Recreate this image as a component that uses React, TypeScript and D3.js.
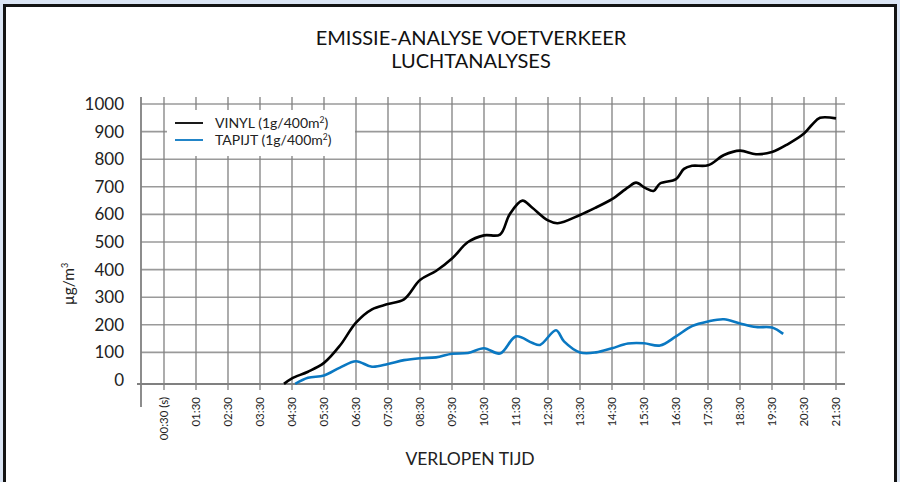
import React, { useEffect, useRef } from 'react';
import * as d3 from 'd3';

// tick labels on the time axis (one every minute, at :30)
const timeLabels = [
  '00:30 (s)', '01:30', '02:30', '03:30', '04:30', '05:30', '06:30', '07:30',
  '08:30', '09:30', '10:30', '11:30', '12:30', '13:30', '14:30', '15:30',
  '16:30', '17:30', '18:30', '19:30', '20:30', '21:30',
];
const yTicks = [0, 100, 200, 300, 400, 500, 600, 700, 800, 900, 1000];

// elapsed minutes + µg/m3
const vinylTimes = [4.25, 4.5, 5, 5.5, 6, 6.5, 7, 7.5, 8, 8.5, 9, 9.5, 10, 10.5, 11, 11.3, 11.7, 12, 12.5, 12.8, 13.5, 14, 14.5, 15, 15.25, 15.55, 15.8, 16, 16.5, 16.75, 17, 17.5, 18, 18.5, 19, 19.5, 20, 20.5, 20.75, 21, 21.5];
const vinylValues = [-14, 6, 30, 62, 125, 208, 256, 275, 292, 362, 395, 440, 500, 524, 527, 600, 650, 625, 578, 568, 598, 625, 655, 698, 715, 695, 685, 712, 728, 765, 776, 778, 815, 831, 818, 826, 855, 893, 925, 950, 948];

const tapijtTimes = [4.6, 5, 5.5, 6, 6.5, 7, 7.5, 8, 8.5, 9, 9.5, 10, 10.5, 11, 11.5, 12, 12.25, 12.75, 13, 13.5, 14, 14.5, 15, 15.5, 16, 16.5, 17, 17.5, 18, 18.5, 19, 19.5, 19.85];
const tapijtValues = [-14, 8, 16, 45, 68, 48, 58, 72, 79, 82, 95, 98, 115, 96, 158, 135, 127, 180, 140, 100, 100, 115, 132, 133, 125, 158, 195, 212, 220, 205, 192, 190, 167];

const FONT = 'Lato, "Noto Sans", sans-serif';

export default function App() {
  const ref = useRef<SVGSVGElement>(null);

  useEffect(() => {
    const svg = d3.select(ref.current);
    svg.selectAll('*').remove();

    const y = d3.scaleLinear().domain([0, 1000]).range([380, 104]);
    const x = d3.scaleLinear().domain([0.5, 21.5]).range([164, 836]);
    const xBand = d3.scalePoint().domain(timeLabels).range([164, 836]);
    const axisY = y(0) + 4;
    const left = 141;
    const right = 845;
    const top = 97;

    // page + frame
    svg.append('rect').attr('width', 900).attr('height', 482).attr('fill', '#dbe5f4');
    svg.append('rect')
      .attr('x', 4.5).attr('y', 5.5).attr('width', 891).attr('height', 500)
      .attr('fill', '#fff').attr('stroke', '#141414').attr('stroke-width', 3);

    // title
    const title = svg.append('text')
      .attr('text-anchor', 'middle').attr('font-family', FONT).attr('font-size', 20).attr('fill', '#111');
    title.append('tspan').attr('x', 471).attr('y', 45).text('EMISSIE-ANALYSE VOETVERKEER');
    title.append('tspan').attr('x', 471).attr('y', 68).text('LUCHTANALYSES');

    const grid = svg.append('g');
    // horizontal grid
    grid.selectAll('line.h')
      .data(yTicks.filter((d) => d > 0))
      .enter().append('line')
      .attr('x1', left).attr('x2', right)
      .attr('y1', (d) => y(d)).attr('y2', (d) => y(d))
      .attr('stroke', '#9a9a9a').attr('stroke-width', 1.6);
    // vertical grid + ticks
    grid.selectAll('line.v')
      .data(timeLabels)
      .enter().append('line')
      .attr('x1', (d) => xBand(d)!).attr('x2', (d) => xBand(d)!)
      .attr('y1', top).attr('y2', axisY + 6)
      .attr('stroke', '#808080').attr('stroke-width', 1.3);

    // axes
    svg.append('line').attr('x1', left).attr('x2', left).attr('y1', top).attr('y2', 407)
      .attr('stroke', '#808080').attr('stroke-width', 1.8);
    svg.append('line').attr('x1', 137).attr('x2', right).attr('y1', axisY).attr('y2', axisY)
      .attr('stroke', '#808080').attr('stroke-width', 1.8);

    // y tick labels
    svg.append('g').selectAll('text')
      .data(yTicks)
      .enter().append('text')
      .attr('x', 124).attr('y', (d) => y(d))
      .attr('dy', '0.35em').attr('text-anchor', 'end')
      .attr('font-family', FONT).attr('font-size', 17).attr('fill', '#222')
      .text((d) => d);

    // x tick labels (rotated)
    svg.append('g').selectAll('text')
      .data(timeLabels)
      .enter().append('text')
      .attr('transform', (d) => `translate(${xBand(d)! + 4}, 397) rotate(-90)`)
      .attr('text-anchor', 'end')
      .attr('font-family', FONT).attr('font-size', 11.5).attr('fill', '#222')
      .text((d) => d);

    // axis titles
    const yt = svg.append('text')
      .attr('transform', 'translate(74, 284) rotate(-90)')
      .attr('text-anchor', 'middle').attr('font-family', FONT).attr('font-size', 15.5).attr('fill', '#222');
    yt.append('tspan').text('µg/m');
    yt.append('tspan').attr('font-size', 9).attr('dy', -6).text('3');

    svg.append('text')
      .attr('x', 470).attr('y', 465).attr('text-anchor', 'middle')
      .attr('font-family', FONT).attr('font-size', 17.5).attr('fill', '#222')
      .text('VERLOPEN TIJD');

    // legend
    svg.append('rect').attr('x', 167).attr('y', 110).attr('width', 188).attr('height', 46).attr('fill', '#fff');
    const legend = [
      { name: 'VINYL (1g/400m', color: '#000', yy: 123 },
      { name: 'TAPIJT (1g/400m', color: '#0a78c2', yy: 140 },
    ];
    legend.forEach((l) => {
      svg.append('line').attr('x1', 175).attr('x2', 203).attr('y1', l.yy).attr('y2', l.yy)
        .attr('stroke', l.color).attr('stroke-width', 1.8);
      const t = svg.append('text').attr('x', 215).attr('y', l.yy + 4.5)
        .attr('font-family', FONT).attr('font-size', 14).attr('fill', '#222');
      t.append('tspan').text(l.name);
      t.append('tspan').attr('font-size', 8.5).attr('dy', -5).text('2');
      t.append('tspan').attr('dy', 5).text(')');
    });

    // lines
    const line = d3.line<[number, number]>()
      .x((d) => x(d[0]))
      .y((d) => y(d[1]))
      .curve(d3.curveCatmullRom.alpha(0.5));

    svg.append('path')
      .datum(d3.zip(tapijtTimes, tapijtValues) as [number, number][])
      .attr('d', line).attr('fill', 'none')
      .attr('stroke', '#0a78c2').attr('stroke-width', 2.6);
    svg.append('path')
      .datum(d3.zip(vinylTimes, vinylValues) as [number, number][])
      .attr('d', line).attr('fill', 'none')
      .attr('stroke', '#000').attr('stroke-width', 2.6);
  }, []);

  return (
    <div style={{ position: 'fixed', left: 0, top: 0 }}>
      <svg ref={ref} width={900} height={482} style={{ display: 'block' }} />
    </div>
  );
}
